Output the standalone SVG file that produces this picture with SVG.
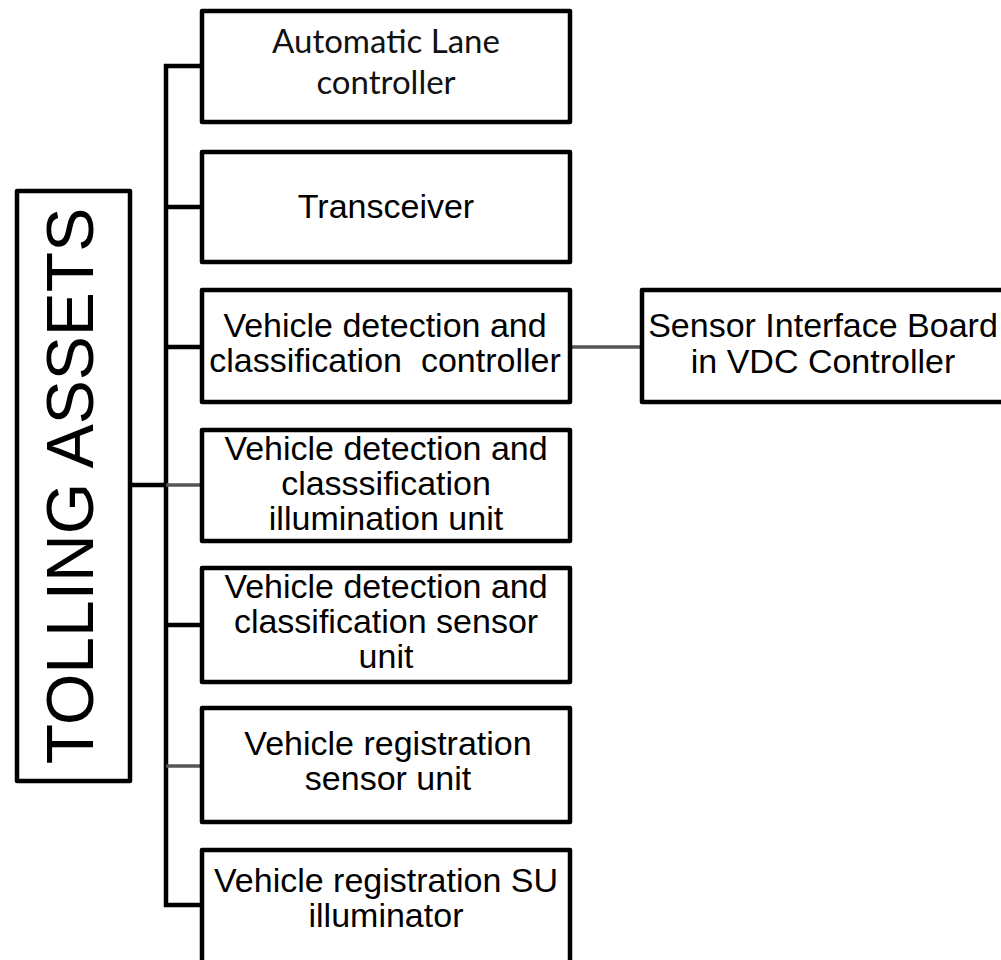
<svg xmlns="http://www.w3.org/2000/svg" width="1001" height="960" viewBox="0 0 1001 960">
<style>
.box{fill:#fff;stroke:#000;stroke-width:4.5;stroke-linejoin:round}
.t{font-family:"Liberation Sans",Arial,sans-serif;font-size:34px;fill:#000;text-anchor:middle}
.c{font-family:Lato,"Open Sans",sans-serif;font-size:33px;fill:#111;text-anchor:middle}
.ln{fill:none;stroke:#000;stroke-width:4.5}
.lg{fill:none;stroke:#555;stroke-width:3.5}
</style>
<rect width="1001" height="960" fill="#fff"/>
<g id="connectors">
<path class="ln" d="M202,66 H166 V905 H202"/>
<path class="ln" d="M166,207 H202"/>
<path class="ln" d="M166,347 H202"/>
<path class="ln" d="M130,485 H166"/>
<path class="lg" d="M166,485 H202"/>
<path class="ln" d="M166,625 H202"/>
<path class="lg" d="M166,766 H202"/>
<path class="lg" d="M570,347 H642"/>
</g>
<g id="tolling-assets">
<rect class="box" x="17" y="191" width="113" height="590"/>
<text class="t" style="font-size:66px" transform="translate(93,486) rotate(-90)">TOLLING ASSETS</text>
</g>
<g id="automatic-lane-controller">
<rect class="box" x="202" y="11" width="368" height="111"/>
<text class="c" x="386" y="53">Automatic Lane</text>
<text class="c" x="386" y="94">controller</text>
</g>
<g id="transceiver">
<rect class="box" x="202" y="152" width="368" height="110"/>
<text class="t" x="386" y="218">Transceiver</text>
</g>
<g id="vdc-controller">
<rect class="box" x="202" y="290" width="368" height="112"/>
<text class="t" x="385" y="337">Vehicle detection and</text>
<text class="t" x="385" y="372" xml:space="preserve">classification  controller</text>
</g>
<g id="vdc-illumination">
<rect class="box" x="202" y="430" width="368" height="111"/>
<text class="t" x="386" y="460">Vehicle detection and</text>
<text class="t" x="386" y="495">classsification</text>
<text class="t" x="386" y="530">illumination unit</text>
</g>
<g id="vdc-sensor">
<rect class="box" x="202" y="568" width="368" height="114"/>
<text class="t" x="386" y="598">Vehicle detection and</text>
<text class="t" x="386" y="633">classification sensor</text>
<text class="t" x="386" y="668">unit</text>
</g>
<g id="vr-sensor">
<rect class="box" x="202" y="708" width="368" height="114"/>
<text class="t" x="388" y="755">Vehicle registration</text>
<text class="t" x="388" y="790">sensor unit</text>
</g>
<g id="vr-illuminator">
<rect class="box" x="202" y="850" width="368" height="125"/>
<text class="t" x="386" y="892">Vehicle registration SU</text>
<text class="t" x="386" y="927">illuminator</text>
</g>
<g id="sensor-interface-board">
<rect class="box" x="642" y="290" width="365" height="112"/>
<text class="t" x="823" y="337">Sensor Interface Board</text>
<text class="t" x="823" y="373">in VDC Controller</text>
</g>
</svg>
